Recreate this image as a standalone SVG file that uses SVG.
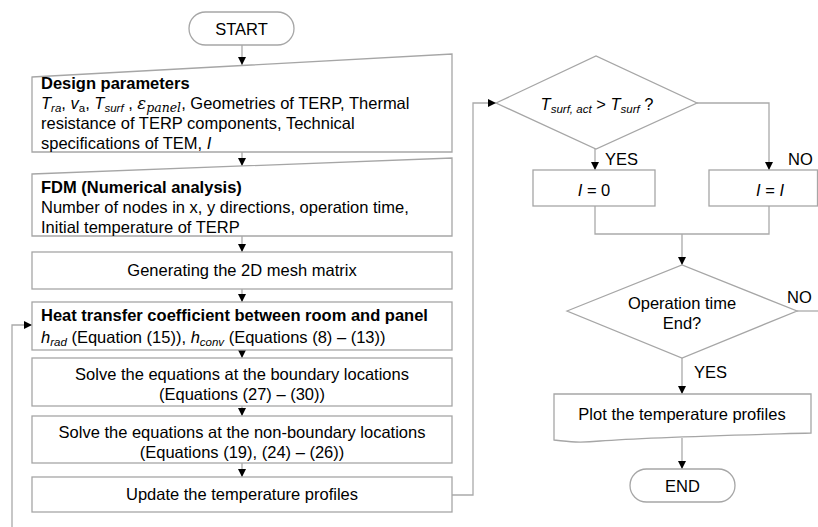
<svg xmlns="http://www.w3.org/2000/svg" width="818" height="527" viewBox="0 0 818 527">
<style>
.box{fill:#fff;stroke:#a6a6a6;stroke-width:1.3}
.t{font-family:"Liberation Sans",Arial,sans-serif;font-size:16.5px;fill:#000}
.c{text-anchor:middle}
.b{font-weight:bold}
.i{font-style:italic}
.sub{font-size:11.5px}
.m{font-family:"DejaVu Serif","Liberation Serif",serif;font-style:italic}
.con{fill:none;stroke:#aaaaaa;stroke-width:1.3}
.arr{fill:none;stroke:#aaaaaa;stroke-width:1.3;marker-end:url(#ah)}
</style>
<defs>
<marker id="ah" markerUnits="userSpaceOnUse" markerWidth="8" markerHeight="8" refX="8" refY="4" orient="auto">
<path d="M0,0 L8,4 L0,8 z" fill="#000"/>
</marker>
</defs>
<rect width="818" height="527" fill="#fff"/>

<g id="connectors">
<path class="arr" d="M242,45 V65"/>
<path class="arr" d="M242,152 V166"/>
<path class="arr" d="M242,236 V252"/>
<path class="arr" d="M242,289 V302"/>
<path class="arr" d="M242,350 V358"/>
<path class="arr" d="M242,406 V416"/>
<path class="arr" d="M242,463 V477"/>
<path class="arr" d="M452,495 H473 V103 H496"/>
<path class="arr" d="M12,527 V325 H32"/>
<path class="arr" d="M595,149 V170"/>
<path class="arr" d="M697,103 H769 V170"/>
<path class="con" d="M595,206 V234 H769 V206"/>
<path class="arr" d="M682,234 V265"/>
<path class="con" d="M797,311 H818"/>
<path class="arr" d="M682,358 V394"/>
<path class="arr" d="M682,438 V469"/>
</g>

<g id="start">
<rect class="box" x="189" y="12" width="105" height="33" rx="16.5"/>
<text class="t c" x="241.5" y="34.5">START</text>
</g>

<g id="design">
<path class="box" d="M32,77 L452,54 V152 H32 Z"/>
<text class="t b" x="41" y="89">Design parameters</text>
<text class="t" x="41" y="109"><tspan class="i">T</tspan><tspan class="i sub" dy="3">ra</tspan><tspan dy="-3">, </tspan><tspan class="i">v</tspan><tspan class="sub" dy="3">a</tspan><tspan dy="-3">, </tspan><tspan class="i">T</tspan><tspan class="i sub" dy="3">surf</tspan><tspan dy="-3"> , </tspan><tspan class="m">ε</tspan><tspan class="m" font-size="12.5" dy="3">panel</tspan><tspan dy="-3">, Geometries of TERP, Thermal</tspan></text>
<text class="t" x="41" y="129">resistance of TERP components, Technical</text>
<text class="t" x="41" y="149">specifications of TEM, <tspan class="i">I</tspan></text>
</g>

<g id="fdm">
<path class="box" d="M32,174 L452,158 V236 H32 Z"/>
<text class="t b" x="41" y="193">FDM (Numerical analysis)</text>
<text class="t" x="41" y="213">Number of nodes in x, y directions, operation time,</text>
<text class="t" x="41" y="233">Initial temperature of TERP</text>
</g>

<g id="mesh">
<rect class="box" x="32" y="252" width="420" height="37"/>
<text class="t c" x="242" y="276">Generating the 2D mesh matrix</text>
</g>

<g id="heat">
<rect class="box" x="32" y="302" width="420" height="48"/>
<text class="t b" x="41" y="321">Heat transfer coefficient between room and panel</text>
<text class="t" x="41" y="343"><tspan class="i">h</tspan><tspan class="i sub" dy="3">rad</tspan><tspan dy="-3"> (Equation (15)), </tspan><tspan class="i">h</tspan><tspan class="i sub" dy="3">conv</tspan><tspan dy="-3"> (Equations (8) – (13))</tspan></text>
</g>

<g id="boundary">
<rect class="box" x="32" y="358" width="420" height="48"/>
<text class="t c" x="242" y="380">Solve the equations at the boundary locations</text>
<text class="t c" x="242" y="400">(Equations (27) – (30))</text>
</g>

<g id="nonboundary">
<rect class="box" x="32" y="416" width="420" height="47"/>
<text class="t c" x="242" y="438">Solve the equations at the non-boundary locations</text>
<text class="t c" x="242" y="458">(Equations (19), (24) – (26))</text>
</g>

<g id="update">
<rect class="box" x="32" y="477" width="420" height="35"/>
<text class="t c" x="242" y="500">Update the temperature profiles</text>
</g>

<g id="decision1">
<path class="box" d="M496,103 L596,56 L697,103 L596,149 Z"/>
<text class="t c" x="597" y="110"><tspan class="i">T</tspan><tspan class="i sub" dy="3">surf, act</tspan><tspan dy="-3"> &gt; </tspan><tspan class="i">T</tspan><tspan class="i sub" dy="3">surf</tspan><tspan dy="-3"> ?</tspan></text>
<text class="t" x="605" y="165">YES</text>
<text class="t" x="788" y="165">NO</text>
</g>

<g id="i0">
<rect class="box" x="533" y="170" width="122" height="36"/>
<text class="t c" x="594" y="196"><tspan class="i">I</tspan> = 0</text>
</g>

<g id="ii">
<rect class="box" x="709" y="170" width="108.5" height="36"/>
<text class="t c" x="770" y="196"><tspan class="i">I</tspan> = <tspan class="i">I</tspan></text>
</g>

<g id="decision2">
<path class="box" d="M567,311 L682,265 L797,311 L682,358 Z"/>
<text class="t c" x="682" y="309">Operation time</text>
<text class="t c" x="682" y="329">End?</text>
<text class="t" x="787" y="303">NO</text>
<text class="t" x="694" y="378">YES</text>
</g>

<g id="plot">
<path class="box" d="M554,394 H811 V433 C740,435 650,437 600,441 C580,443 570,442 554,440 Z"/>
<text class="t c" x="682" y="420">Plot the temperature profiles</text>
</g>

<g id="end">
<rect class="box" x="630" y="469" width="105" height="33" rx="16.5"/>
<text class="t c" x="682.5" y="491.5">END</text>
</g>
</svg>
